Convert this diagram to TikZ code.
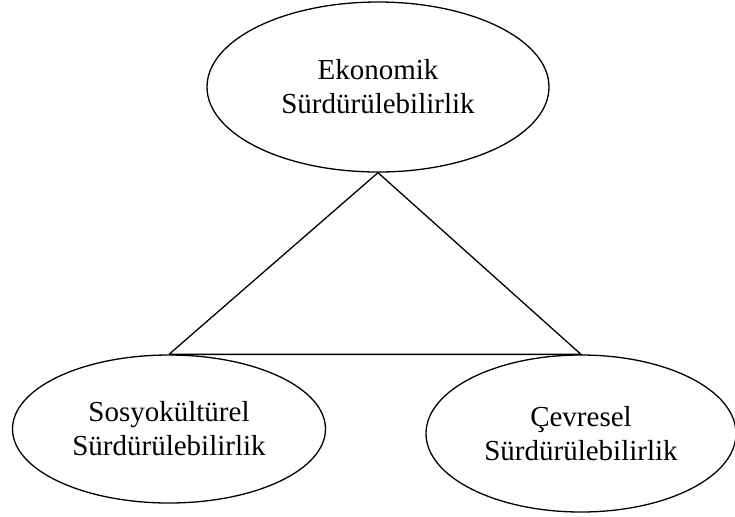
\documentclass[tikz,border=0pt]{standalone}
\usepackage{fontspec}
\setmainfont{Liberation Serif}
\usetikzlibrary{shapes.geometric}

\begin{document}
\begin{tikzpicture}[x=0.5pt, y=-0.5pt, line width=0.65pt,
  pillar/.style={draw, ellipse, inner sep=0pt, align=center,
    font=\fontsize{14.5}{17}\selectfont}]
\useasboundingbox (0,0) rectangle (735,516);
\node [pillar, minimum width=171pt, minimum height=85pt] (eko) at (378,87) {Ekonomik\\Sürdürülebilirlik};
\node [pillar, minimum width=156.5pt, minimum height=74pt] (sos) at (169,429) {Sosyokültürel\\Sürdürülebilirlik};
\node [pillar, minimum width=155pt, minimum height=78.5pt] (cev) at (581,433.5) {Çevresel\\Sürdürülebilirlik};
\draw (sos.north) -- (eko.south) -- (cev.north) -- (sos.north);
\end{tikzpicture}
\end{document}
